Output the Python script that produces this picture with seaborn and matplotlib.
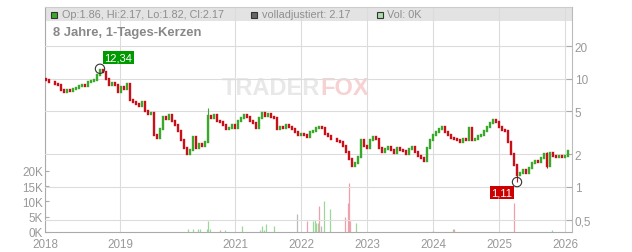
import numpy as np
import pandas as pd
import matplotlib
matplotlib.use("Agg")
import matplotlib.pyplot as plt
import seaborn as sns
from matplotlib.patches import Rectangle
from matplotlib.ticker import FixedLocator, FixedFormatter, NullLocator

# ---------------- data ----------------
first_open = 9.9
closes = [
    9.7, 9.3, 9.4, 9.0, 8.7, 7.8, 7.6, 7.9, 7.7, 8.0,
    8.2, 8.5, 8.8, 8.6, 9.3, 9.6, 9.8, 10.8, 12.0, 11.6,
    10.0, 8.8, 9.1, 8.7, 7.6, 8.3, 8.1, 8.9, 6.4, 6.1,
    5.8, 5.6, 6.1, 5.0, 4.7, 4.8, 3.0, 2.85, 3.4, 4.4,
    4.2, 4.6, 4.1, 3.7, 3.3, 2.7, 2.3, 2.0, 2.2, 2.9,
    2.3, 2.5, 2.4, 2.6, 4.5, 4.3, 4.6, 4.1, 4.0, 3.7,
    3.4, 3.5, 3.7, 3.5, 4.1, 4.3, 4.6, 4.4, 4.1, 3.9,
    3.5, 4.3, 4.8, 4.5, 4.7, 4.4, 4.3, 3.4, 3.6, 3.5,
    3.7, 3.6, 3.4, 3.2, 3.0, 3.1, 3.0, 2.9, 3.2, 3.3,
    3.5, 3.6, 3.5, 3.1, 2.95, 2.8, 2.75, 2.65, 2.6, 2.4,
    2.1, 1.8, 1.55, 1.65, 1.9, 2.7, 2.4, 2.3, 2.7, 2.9,
    2.75, 2.3, 2.1, 2.25, 2.35, 2.2, 2.05, 2.3, 2.2, 2.15,
    2.0, 2.25, 2.35, 2.1, 1.95, 1.85, 1.75, 2.3, 2.7, 3.0,
    3.2, 3.4, 3.55, 3.2, 3.0, 2.85, 2.75, 2.7, 2.6, 2.75,
    2.7, 3.5, 2.7, 2.8, 2.95, 3.0, 3.3, 3.6, 3.9, 4.15,
    4.0, 3.6, 3.35, 3.3, 2.6, 2.0, 1.6, 1.3, 1.35, 1.45,
    1.35, 1.5, 1.65, 1.75, 1.7, 1.85, 2.0, 1.55, 2.05, 1.95,
    1.9, 1.95, 1.9, 1.95, 2.17,
]
wick_idx = [18, 54, 157, 167]
wick_high = [12.34, 5.4, 1.6, 2.1]
wick_low = [10.8, 2.6, 1.11, 1.5]

vol_day = [47.3, 49.0, 50.7, 51.3, 53.7, 54.0, 54.7, 58.0, 59.7, 65.3,
           71.3, 72.0, 72.7, 73.3, 76.0, 83.7, 87.0, 89.0, 89.7, 90.0,
           90.7, 91.0, 91.7, 92.7, 94.7, 99.7, 100.7, 101.0, 101.3, 103.3,
           129.0, 135.7, 136.0, 156.0, 168.7]
vol_k = [1.0, 1.0, 1.0, 1.0, 1.0, 3.7, 1.0, 0.5, 0.8, 2.0,
         0.8, 2.0, 0.8, 2.5, 2.0, 5.9, 3.7, 3.7, 4.0, 3.0,
         3.0, 8.6, 2.0, 10.0, 7.5, 4.9, 9.5, 16.0, 3.7, 3.0,
         0.3, 1.0, 1.0, 9.5, 0.7]
vol_dir = ["up", "up", "up", "up", "up", "up", "up", "down", "up", "up",
           "up", "up", "up", "up", "up", "flat", "down", "up", "up", "up",
           "up", "down", "flat", "up", "up", "down", "down", "down", "down", "up",
           "down", "up", "down", "down", "up"]

year_labels = ["2018", "2019", "2021", "2022", "2023", "2024", "2025", "2026"]
price_ticks = [0.5, 1, 2, 5, 10, 20]
price_tick_labels = ["0,5", "1", "2", "5", "10", "20"]
vol_ticks_k = [0, 5, 10, 15, 20]
vol_tick_labels = ["0K", "5K", "10K", "15K", "20K"]

header_ohlc = "Op:1.86, Hi:2.17, Lo:1.82, Cl:2.17"
header_adj = "volladjustiert: 2.17"
header_vol = "Vol: 0K"
title = "8 Jahre, 1-Tages-Kerzen"

# ---------------- layout / style ----------------
year_pos = [-0.33, 24.67, 63, 85, 107, 129, 151, 173]
W, H = 632, 253
GREEN = "#3aa82a"
RED = "#c8101a"
VOL_COL = {"up": "#9ad89a", "down": "#f0a0aa", "flat": "#bbbbbb"}
GRID = "#dcdcdc"
TXT = "#999999"

sns.set_style("white")
plt.rcParams["font.family"] = ["Liberation Sans", "DejaVu Sans"]

fig = plt.figure(figsize=(W / 100, H / 100), dpi=100)
axv = fig.add_axes([45 / W, 20 / H, 527 / W, 225 / H])
axp = axv.twinx()
axp.set_zorder(axv.get_zorder() + 1)
axp.patch.set_visible(False)

df = pd.DataFrame({"i": np.arange(len(closes)), "close": closes})
df["open"] = [first_open] + closes[:-1]
df["lo"] = df[["open", "close"]].min(axis=1)
df["hi"] = df[["open", "close"]].max(axis=1)
df["col"] = np.where(df["close"] >= df["open"], GREEN, RED)

vdf = pd.DataFrame({"day": vol_day, "vol": np.array(vol_k) * 1000, "dir": vol_dir})

# volume axis (left)
axv.set_xlim(-0.33, 175.33)
axv.set_ylim(0, 73530)
axv.set_axisbelow(True)
axv.add_patch(Rectangle((0, 211 / 225), 1, 14 / 225, transform=axv.transAxes,
                        facecolor="#e3e3e3", edgecolor="none", zorder=0.3))
axv.vlines(vdf["day"], 0, vdf["vol"], colors=[VOL_COL[d] for d in vdf["dir"]],
           linewidth=0.9, zorder=2)
axv.xaxis.set_major_locator(FixedLocator(year_pos))
axv.set_xticklabels(year_labels)
axv.yaxis.set_major_locator(FixedLocator([v * 1000 for v in vol_ticks_k]))
axv.set_yticklabels(vol_tick_labels)
axv.grid(True, axis="x", color=GRID, linewidth=0.8)
axv.grid(False, axis="y")
axv.tick_params(axis="both", direction="in", length=3, color="#aaaaaa",
                labelcolor=TXT, labelsize=8.4)
axv.tick_params(axis="x", pad=4.5)
axv.tick_params(axis="y", pad=1.5)

# price axis (right, log)
axp.set_yscale("log")
axp.set_ylim(0.384, 45.9)
axp.set_xlim(-0.33, 175.33)
axp.yaxis.set_major_locator(FixedLocator(price_ticks))
axp.yaxis.set_major_formatter(FixedFormatter(price_tick_labels))
axp.yaxis.set_minor_locator(NullLocator())
axp.grid(True, axis="y", color=GRID, linewidth=0.8, zorder=0)
axp.tick_params(axis="y", direction="in", length=4, color="#aaaaaa",
                labelcolor=TXT, labelsize=8.5, pad=2)

# candles
axp.vlines(wick_idx, wick_low, wick_high,
           colors=[df.loc[i, "col"] for i in wick_idx], linewidth=0.8, zorder=3)
axp.vlines(df["i"], df["lo"], df["hi"], colors=df["col"], linewidth=1.7,
           capstyle="projecting", zorder=3)

# markers for extremes
pk = int(np.argmax(wick_high))
tr = int(np.argmin(wick_low))
sns.scatterplot(x=[wick_idx[pk], wick_idx[tr]], y=[wick_high[pk], wick_low[tr]],
                ax=axp, s=45, marker="o", facecolor="none", edgecolor="#333333",
                linewidth=0.8, zorder=5, legend=False)
axp.annotate(f"{wick_high[pk]:.2f}".replace(".", ","), (wick_idx[pk], wick_high[pk]),
             xytext=(13, 8), textcoords="offset points", ha="center", va="center",
             color="white", fontsize=8, zorder=6,
             bbox=dict(boxstyle="square,pad=0.14", fc="#009900", ec="none"))
axp.annotate(f"{wick_low[tr]:.2f}".replace(".", ","), (wick_idx[tr], wick_low[tr]),
             xytext=(-11, -7.5), textcoords="offset points", ha="center", va="center",
             color="white", fontsize=8, zorder=6,
             bbox=dict(boxstyle="square,pad=0.14", fc="#cc0000", ec="none"))

# spines
for ax in (axv, axp):
    for s in ax.spines.values():
        s.set_visible(False)
axv.spines["left"].set_visible(True)
axv.spines["left"].set_color("#aaaaaa")
axv.spines["bottom"].set_visible(True)
axv.spines["bottom"].set_color("#aaaaaa")
axv.spines["top"].set_visible(True)
axv.spines["top"].set_color("#cccccc")
axp.spines["right"].set_visible(True)
axp.spines["right"].set_color("#bbbbbb")


def fx(px):
    return px / W


def fy(py):
    return 1 - py / H


# watermark
fig.text(fx(320), fy(89), "TRADER", ha="right", va="center", fontsize=17,
         fontweight="bold", color="#e8e8e8", zorder=0)
fig.text(fx(320), fy(89), "FOX", ha="left", va="center", fontsize=17,
         fontweight="bold", color="#f7d2d2", zorder=0)

# header
for x0, fc in [(50.5, GREEN), (250.5, "#666666"), (376.5, "#a8dca8")]:
    fig.patches.append(Rectangle((fx(x0), fy(18.5)), 6 / W, 6 / H, transform=fig.transFigure,
                                 facecolor=fc, edgecolor="#333333", linewidth=0.8))
fig.text(fx(61.5), fy(15.5), header_ohlc, ha="left", va="center", fontsize=7.8, color="#8e8e8e")
fig.text(fx(261.5), fy(15.5), header_adj, ha="left", va="center", fontsize=7.8, color="#8e8e8e")
fig.text(fx(387), fy(15.5), header_vol, ha="left", va="center", fontsize=7.8, color="#8e8e8e")
fig.text(fx(53), fy(33), title, ha="left", va="center", fontsize=9.4,
         fontweight="bold", color="#888888")

fig.savefig("out.png", dpi=100)
